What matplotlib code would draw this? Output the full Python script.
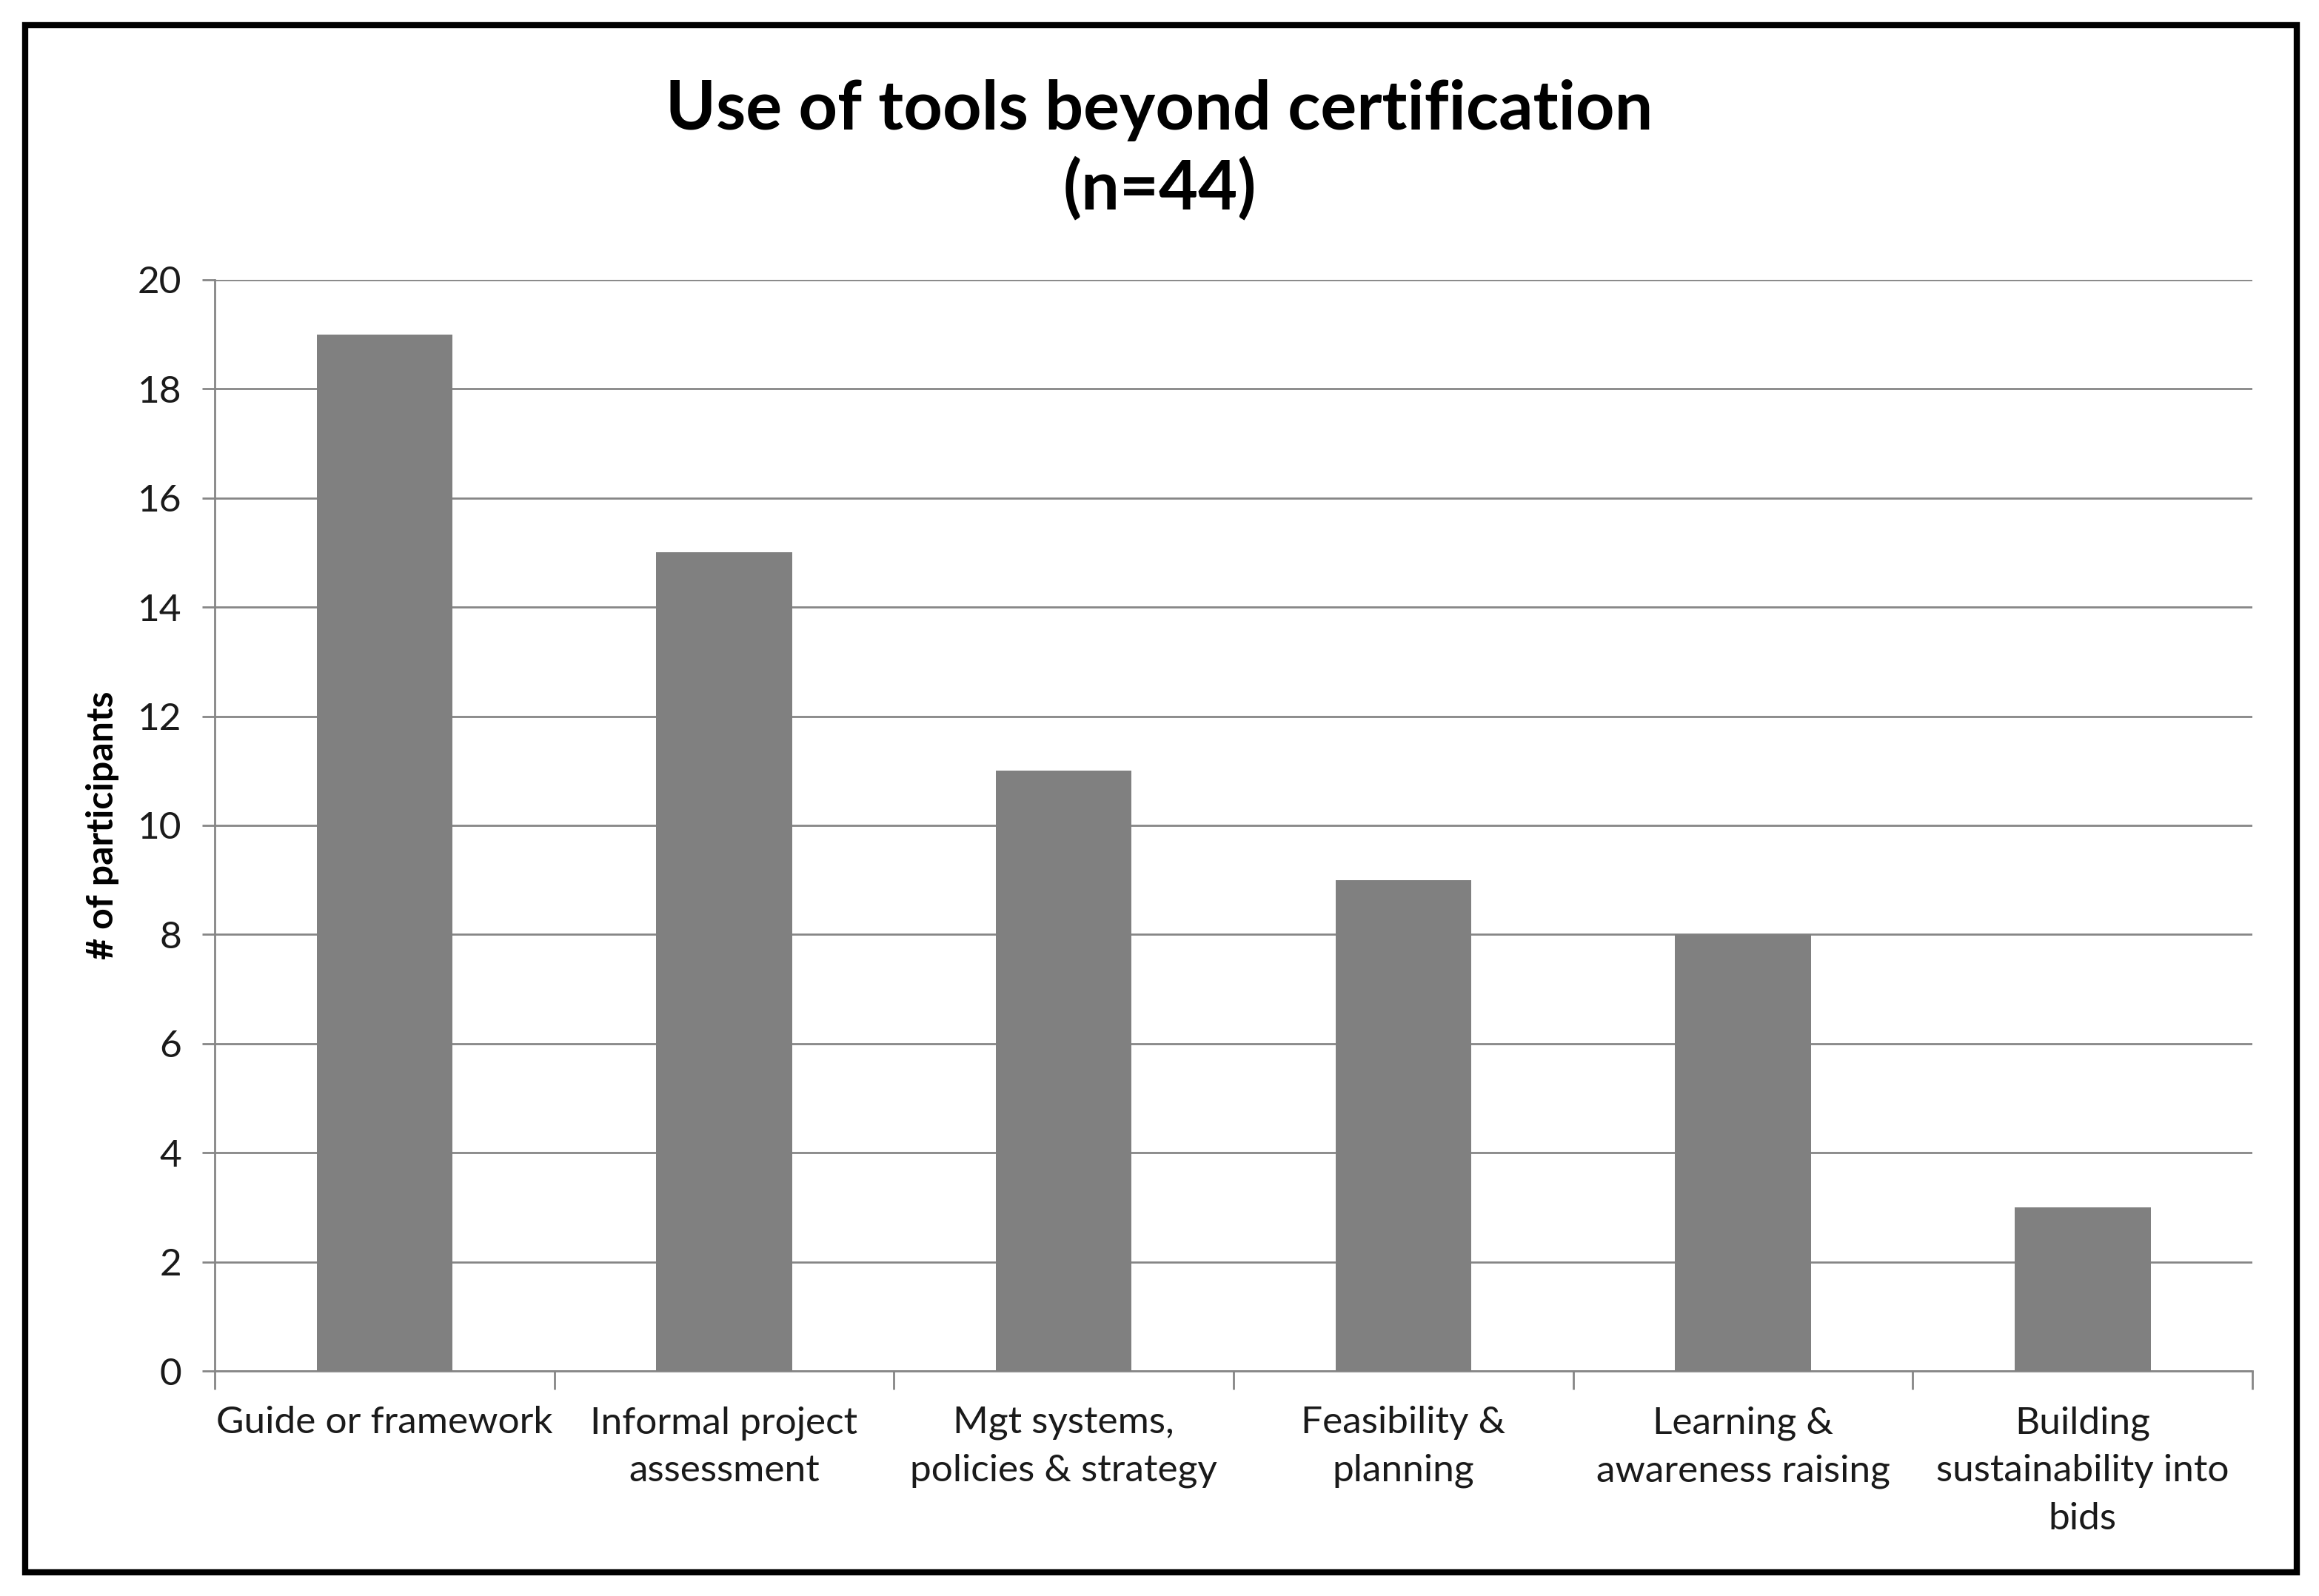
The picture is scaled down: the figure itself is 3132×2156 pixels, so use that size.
import matplotlib.pyplot as plt
from matplotlib.patches import Rectangle

categorias = ["Guide or framework",
              "Informal project\nassessment",
              "Mgt systems,\npolicies & strategy",
              "Feasibility &\nplanning",
              "Learning &\nawareness raising",
              "Building\nsustainability into\nbids"]
valores = [19, 15, 11, 9, 8, 3]
y_ticks = [0, 2, 4, 6, 8, 10, 12, 14, 16, 18, 20]

plt.rcParams['font.family'] = ['Lato', 'DejaVu Sans']

fig = plt.figure(figsize=(31.32, 21.56), dpi=100)
ax = fig.add_axes([0.0926, 0.141, 0.9713 - 0.0926, 0.8247 - 0.141])

gris = '#868686'
x = list(range(len(categorias)))
ax.bar(x, valores, width=0.4, color='#808080', zorder=3)

ax.set_xlim(-0.5, len(categorias) - 0.5)
ax.set_ylim(0, 20)
ax.set_yticks(y_ticks)
ax.set_xticks(x)
ax.set_xticklabels(categorias, fontsize=37, linespacing=1.5)
ax.set_xticks([i - 0.5 for i in range(len(categorias) + 1)], minor=True)
ax.tick_params(axis='x', which='major', length=0, pad=34, colors='#1a1a1a')
ax.tick_params(axis='x', which='minor', length=18, width=2, color=gris)
ax.tick_params(axis='y', length=12, width=2, color=gris, labelsize=37,
               pad=20, labelcolor='#1a1a1a')

ax.grid(axis='y', color=gris, linewidth=2, zorder=0)
for lado in ['top', 'right']:
    ax.spines[lado].set_visible(False)
for lado in ['left', 'bottom']:
    ax.spines[lado].set_color(gris)
    ax.spines[lado].set_linewidth(2)

ax.set_ylabel('# of participants', fontsize=36, fontweight='bold', labelpad=18)

fig.text(0.5, 0.906, 'Use of tools beyond certification\n(n=44)', ha='center',
         va='center', fontsize=66, fontweight='bold', linespacing=1.3)

# marco negro alrededor del grafico
fig.patches.append(Rectangle((34 / 3132, 1 - 2124 / 2156), (3102 - 34) / 3132,
                             (2124 - 34) / 2156, transform=fig.transFigure,
                             fill=False, edgecolor='black', linewidth=6))

fig.savefig('out.png', dpi=100)
